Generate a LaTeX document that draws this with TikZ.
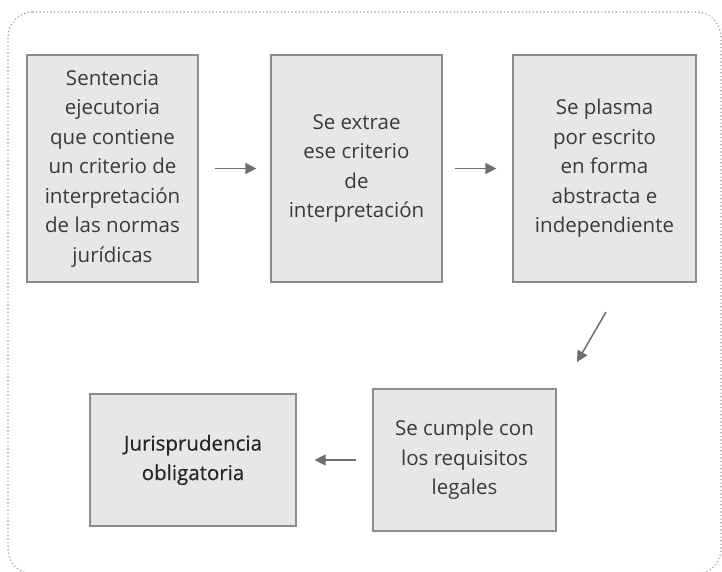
\documentclass[tikz,border=0pt]{standalone}
\usepackage{fontspec}
\setmainfont{Open Sans}
\newfontfamily\medfont[FakeBold=0.4]{Open Sans}
\usetikzlibrary{arrows.meta}
\definecolor{boxfill}{HTML}{E6E7E8}
\definecolor{boxline}{HTML}{8C8C8C}
\definecolor{txt}{HTML}{3A3A3A}
\definecolor{arrcol}{HTML}{6D6E71}
\definecolor{framecol}{HTML}{9A9A9A}
\tikzset{
  stepbox/.style={draw=boxline, line width=1.2pt, fill=boxfill, align=center,
    inner sep=0pt, text=txt, font=\fontsize{20.5}{29.5}\selectfont},
  flowarrow/.style={draw=arrcol, line width=1.5pt, -{Triangle[length=11pt,width=11pt]}},
  frameline/.style={draw=framecol, line width=1.6pt, line cap=round,
    dash pattern=on 0pt off 3.6pt, rounded corners=25pt}
}
\begin{document}
\begin{tikzpicture}[x=1pt,y=1pt]
\useasboundingbox (0,0) rectangle (722,572);
\draw[frameline] (8,560) -- (721,560) -- (721,-2) -- (8,-2) -- cycle;
\node[stepbox, minimum width=171pt, minimum height=227pt] (b1) at (112.5,403.5)
  {Sentencia\\ejecutoria\\que contiene\\un criterio de\\interpretación\\de las normas\\jurídicas};
\node[stepbox, minimum width=171pt, minimum height=227pt] (b2) at (356.5,403.5)
  {Se extrae\\ese criterio\\de\\interpretación};
\node[stepbox, minimum width=183pt, minimum height=227pt] (b3) at (604.5,403.5)
  {Se plasma\\por escrito\\en forma\\abstracta e\\independiente};
\node[stepbox, minimum width=183pt, minimum height=142pt] (b4) at (464.5,112)
  {Se cumple con\\los requisitos\\legales};
\node[stepbox, minimum width=206pt, minimum height=132pt, text=black!85] (b5) at (193,112)
  {\medfont Jurisprudencia\\\medfont obligatoria};
\draw[flowarrow] ([xshift=16pt]b1.east) -- ([xshift=-14pt]b2.west);
\draw[flowarrow] ([xshift=12pt]b2.east) -- ([xshift=-16pt]b3.west);
\coordinate (d1) at (606,260);
\coordinate (d2) at (577,210);
\draw[flowarrow] (d1) -- (d2);
\draw[flowarrow] ([xshift=-16pt]b4.west) -- ([xshift=18pt]b5.east);
\end{tikzpicture}
\end{document}
